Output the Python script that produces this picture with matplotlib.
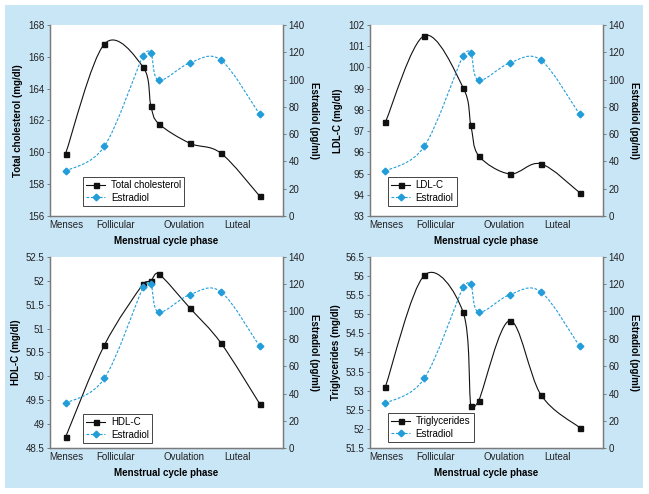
import matplotlib
matplotlib.use("Agg")
import matplotlib.pyplot as plt
import numpy as np
from matplotlib.path import Path
from matplotlib.patches import PathPatch, Rectangle
from matplotlib.lines import Line2D
from matplotlib.ticker import StrMethodFormatter

plt.rcParams['font.family'] = ['Liberation Sans', 'DejaVu Sans']
plt.rcParams['font.size'] = 7

# cycle day of each measurement
day = [2, 7, 12, 13, 14, 18, 22, 27]
phase_labels = ["Menses", "Follicular", "Ovulation", "Luteal"]
phase_pos = [2.1, 8.5, 17.2, 24.2]

estradiol = [32.8, 51.0, 117.5, 119.8, 99.4, 112.2, 114.4, 74.5]
total_chol = [159.9, 166.8, 165.35, 162.9, 161.8, 160.57, 159.95, 157.25]
ldl = [97.43, 101.5, 99.05, 97.27, 95.84, 94.98, 95.46, 94.1]
hdl = [48.73, 50.65, 51.93, 52.0, 52.14, 51.43, 50.7, 49.43]
trig = [53.11, 56.01, 55.05, 52.6, 52.74, 54.83, 52.9, 52.04]

BLACK = "#111111"
BLUE = "#229dda"
GREY = "#7a7a7a"


def smooth_path(x, y, xspan, yspan, cap=0.5):
    # Bezier curve through the points, like a spreadsheet "smoothed line";
    # handles are kept short on short segments (measured on screen)
    pts = np.column_stack([x, y]).astype(float)
    scale = np.array([233.0 / xspan, 191.0 / yspan])
    n = len(pts)

    def screen_len(v):
        return np.hypot(*(v * scale)) + 1e-9

    verts = [pts[0]]
    codes = [Path.MOVETO]
    for i in range(n - 1):
        p0 = pts[max(i - 1, 0)]
        p1 = pts[i]
        p2 = pts[i + 1]
        p3 = pts[min(i + 2, n - 1)]
        seg = screen_len(p2 - p1)
        h1 = (p2 - p0) / 6
        h2 = (p3 - p1) / 6
        h1 = h1 * min(1.0, cap * seg / screen_len(h1))
        h2 = h2 * min(1.0, cap * seg / screen_len(h2))
        verts += [p1 + h1, p2 - h2, p2]
        codes += [Path.CURVE4] * 3
    return Path(verts, codes)


panels = [
    (total_chol, "Total cholesterol", "Total cholesterol (mg/dl)", (156, 168), 2,
     [0.077, 0.5628, 0.359, 0.3866], (0.142, 0.052)),
    (ldl, "LDL-C", "LDL-C (mg/dl)", (93, 102), 1,
     [0.570, 0.5628, 0.359, 0.3866], (0.077, 0.052)),
    (hdl, "HDL-C", "HDL-C (mg/dl)", (48.5, 52.5), 0.5,
     [0.077, 0.0925, 0.359, 0.388], (0.142, 0.028)),
    (trig, "Triglycerides", "Triglycerides (mg/dl)", (51.5, 56.5), 0.5,
     [0.570, 0.0925, 0.359, 0.388], (0.077, 0.033)),
]

fig = plt.figure(figsize=(6.49, 4.94), dpi=100)
bg = Rectangle((5 / 649, 6 / 494), 638 / 649, 483 / 494,
               transform=fig.transFigure, facecolor="#c9e6f7",
               edgecolor="none", zorder=-10)
fig.add_artist(bg)

for values, name, ylabel, ylim, step, rect, leg_pos in panels:
    ax = fig.add_axes(rect)
    ax.set_facecolor("white")
    ax2 = ax.twinx()

    ax.add_patch(PathPatch(smooth_path(day, values, 30, ylim[1] - ylim[0]),
                           facecolor="none", edgecolor=BLACK, lw=0.8))
    ax.plot(day, values, ls="none", marker="s", ms=3.6, color=BLACK)

    ax2.add_patch(PathPatch(smooth_path(day, estradiol, 30, 140),
                            facecolor="none", edgecolor=BLUE, lw=0.8,
                            ls=(0, (2.5, 1.5))))
    ax2.plot(day, estradiol, ls="none", marker="D", ms=3.4, color=BLUE)

    ax.set_xlim(0, 30)
    ax.set_ylim(*ylim)
    ax.set_yticks(np.arange(ylim[0], ylim[1] + step / 2, step))
    ax.yaxis.set_major_formatter(StrMethodFormatter("{x:g}"))
    ax2.set_ylim(0, 140)
    ax2.set_yticks(np.arange(0, 141, 20))

    ax.set_xticks(phase_pos)
    ax.set_xticklabels(phase_labels)
    ax.tick_params(axis="x", length=0, pad=3, colors="#222222")
    ax.tick_params(axis="y", length=2.5, width=0.7, color=GREY, labelcolor="#222222", pad=1.5)
    ax2.tick_params(axis="y", length=2.5, width=0.7, color=GREY, labelcolor="#222222", pad=1.5)

    for a in (ax, ax2):
        a.spines["top"].set_visible(False)
        for s in ("left", "right", "bottom"):
            a.spines[s].set_color(GREY)
            a.spines[s].set_linewidth(0.9)

    ax.set_xlabel("Menstrual cycle phase", fontweight="bold", labelpad=4)
    ax.set_ylabel(ylabel, fontweight="bold", labelpad=3.5)
    ax2.set_ylabel("Estradiol (pg/ml)", fontweight="bold", rotation=270,
                   va="bottom", labelpad=3)

    handles = [
        Line2D([], [], color=BLACK, lw=0.8, marker="s", ms=3.6),
        Line2D([], [], color=BLUE, lw=0.8, ls=(0, (2.5, 1.5)), marker="D", ms=3.4),
    ]
    leg = ax2.legend(handles, [name, "Estradiol"], loc="lower left",
                     bbox_to_anchor=leg_pos, borderaxespad=0, fancybox=False,
                     framealpha=1, edgecolor="#444444", fontsize=7,
                     handlelength=1.9, labelspacing=0.25, borderpad=0.35,
                     handletextpad=0.6)
    leg.get_frame().set_linewidth(0.7)

fig.savefig("out.png", dpi=100)
